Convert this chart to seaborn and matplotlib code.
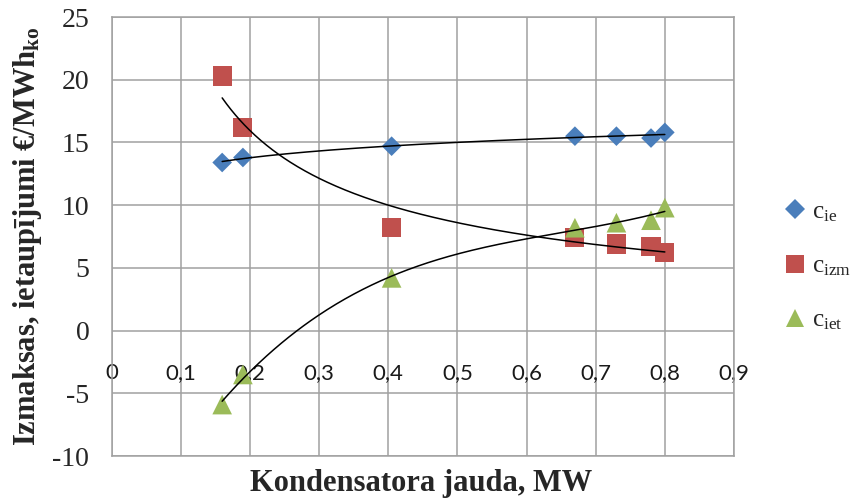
import numpy as np
import pandas as pd
import matplotlib
matplotlib.use("Agg")
import matplotlib.pyplot as plt
import seaborn as sns
from matplotlib.lines import Line2D

# ---- data ----
power_mw = [0.16, 0.19, 0.405, 0.67, 0.73, 0.78, 0.80]
c_ie = [13.4, 13.8, 14.7, 15.5, 15.5, 15.35, 15.8]
c_izm = [20.3, 16.2, 8.2, 7.4, 6.9, 6.7, 6.2]
c_iet = [-5.9, -3.5, 4.2, 8.2, 8.6, 8.8, 9.8]
series_names = ["c_ie", "c_izm", "c_iet"]
series_labels = [r"c$_{\mathrm{ie}}$", r"c$_{\mathrm{izm}}$", r"c$_{\mathrm{iet}}$"]
x_tick_values = [0, 0.1, 0.2, 0.3, 0.4, 0.5, 0.6, 0.7, 0.8, 0.9]
x_tick_labels = ["0", "0,1", "0,2", "0,3", "0,4", "0,5", "0,6", "0,7", "0,8", "0,9"]
y_tick_values = [-10, -5, 0, 5, 10, 15, 20, 25]
x_label = "Kondensatora jauda, MW"
y_label = r"Izmaksas, ietaupījumi €/MWh$_{\mathbf{ko}}$"

colors = {"c_ie": "#4A7EBB", "c_izm": "#C0504D", "c_iet": "#9BBB59"}
markers = {"c_ie": "D", "c_izm": "s", "c_iet": "^"}
sizes = {"c_ie": 100, "c_izm": 190, "c_iet": 200}

df = pd.DataFrame({"x": power_mw * 3,
                   "y": c_ie + c_izm + c_iet,
                   "series": [n for n in series_names for _ in power_mw]})

sns.set_style("white")
plt.rcParams["font.family"] = ["Liberation Serif", "DejaVu Sans"]
plt.rcParams["mathtext.fontset"] = "custom"
plt.rcParams["mathtext.rm"] = "Liberation Serif"
plt.rcParams["mathtext.it"] = "Liberation Serif:italic"
plt.rcParams["mathtext.bf"] = "Liberation Serif:bold"
plt.rcParams["axes.unicode_minus"] = False

fig = plt.figure(figsize=(8.55, 4.99), dpi=100)
ax = fig.add_axes([111.5 / 855, 1 - 456 / 499, 622.5 / 855, 439 / 499])

# trend lines (Excel-like fits computed from the data)
x = np.array(power_mw)
xs = np.linspace(x.min(), x.max(), 300)
a_ie, b_ie = np.polyfit(np.log(x), np.array(c_ie), 1)
p_izm, la_izm = np.polyfit(np.log(x), np.log(np.array(c_izm)), 1)
poly_iet = np.polyfit(x, np.array(c_iet), 3)
trend = {
    "c_ie": a_ie * np.log(xs) + b_ie,
    "c_izm": np.exp(la_izm) * xs ** p_izm,
    "c_iet": np.polyval(poly_iet, xs),
}

for name in series_names:
    sub = df[df["series"] == name]
    sns.scatterplot(data=sub, x="x", y="y", marker=markers[name], s=sizes[name],
                    color=colors[name], edgecolor="none", linewidth=0, ax=ax,
                    zorder=3, legend=False)
for name in series_names:
    sns.lineplot(x=xs, y=trend[name], color="black", linewidth=1.1, ax=ax,
                 zorder=4, legend=False)

ax.set_xlim(0, 0.9)
ax.set_ylim(-10, 25)
ax.set_xticks(x_tick_values)
ax.set_xticklabels(x_tick_labels, fontfamily="Lato", fontsize=16, color="#1a1a1a")
ax.set_yticks(y_tick_values)
ax.set_yticklabels([str(v) for v in y_tick_values], fontsize=20)
ax.tick_params(axis="x", length=0, pad=-67)
ax.tick_params(axis="y", length=0, pad=16)
ax.grid(True, color="#a0a0a0", linewidth=1.1)
ax.set_axisbelow(True)
for sp in ax.spines.values():
    sp.set_color("#a0a0a0")
    sp.set_linewidth(1.1)

ax.set_xlabel(x_label, fontsize=22, fontweight="bold")
ax.set_ylabel(y_label, fontsize=22, fontweight="bold")
ax.xaxis.set_label_coords(0.497, -0.029)
ax.yaxis.set_label_coords(-0.108, 0.5)

handles = [Line2D([], [], linestyle="", marker=markers[n], color=colors[n],
                  markersize=(10 if n == "c_ie" else 13), markeredgewidth=0)
           for n in series_names]
fig.legend(handles, series_labels, loc="center left",
           bbox_to_anchor=(782 / 855, 1 - 266.5 / 499), frameon=False,
           fontsize=18, handlelength=1.0, handletextpad=0.2, labelspacing=1.25,
           borderaxespad=0, borderpad=0)

fig.savefig("out.png", dpi=100)
